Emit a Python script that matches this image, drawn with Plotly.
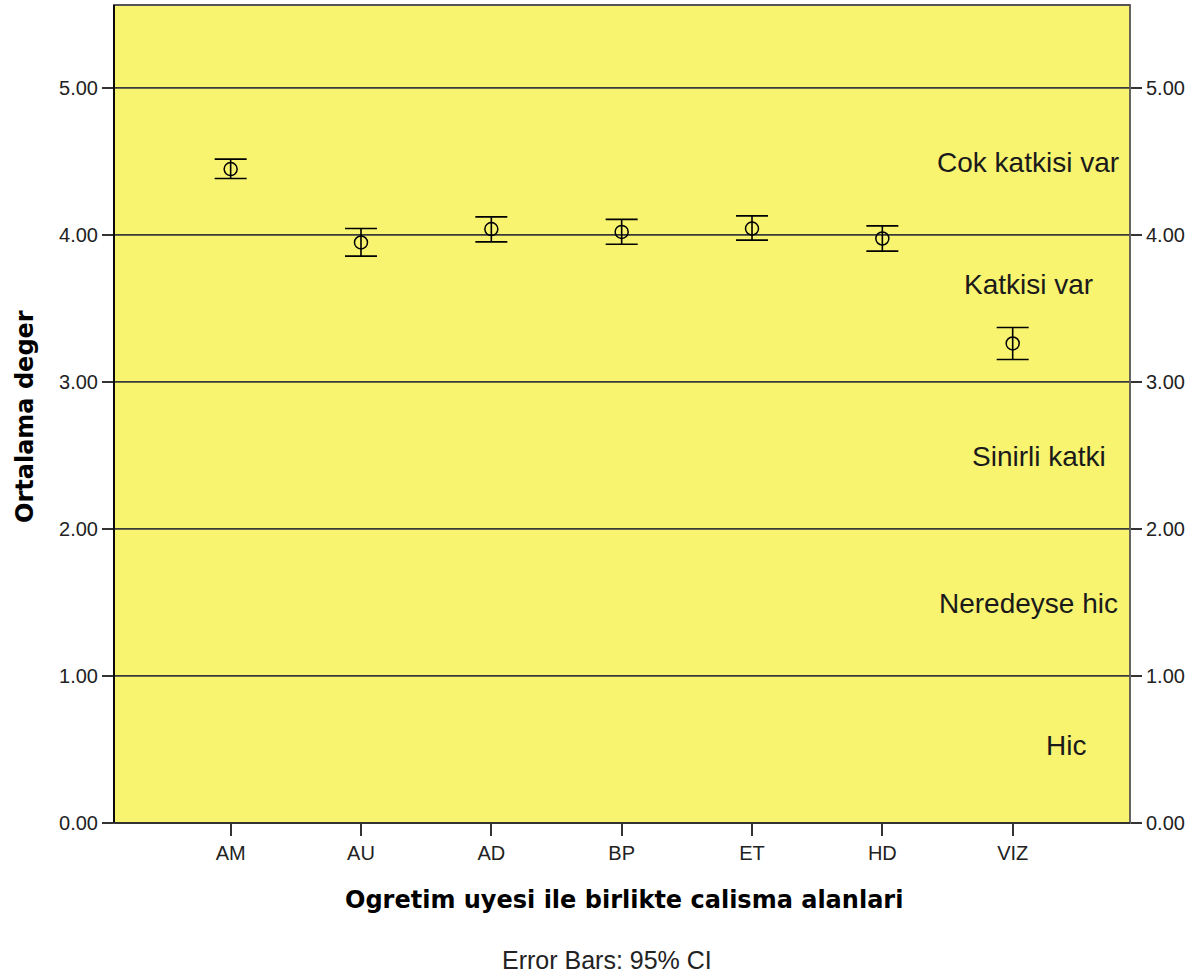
import plotly.graph_objects as go

categories = ["AM", "AU", "AD", "BP", "ET", "HD", "VIZ"]
means = [4.447, 3.948, 4.039, 4.020, 4.043, 3.975, 3.261]
ci_upper = [4.515, 4.043, 4.122, 4.105, 4.129, 4.061, 3.370]
ci_lower = [4.383, 3.855, 3.952, 3.936, 3.964, 3.889, 3.152]

band_labels = ["Cok katkisi var", "Katkisi var", "Sinirli katki", "Neredeyse hic", "Hic"]
band_label_y = [4.49, 3.66, 2.49, 1.49, 0.53]
band_label_x = [6.115, 6.125, 6.205, 6.125, 6.408]

gridlines = [1, 2, 3, 4, 5]
yticks = [0, 1, 2, 3, 4, 5]

xs = list(range(len(categories)))
err_plus = [u - m for u, m in zip(ci_upper, means)]
err_minus = [m - l for m, l in zip(means, ci_lower)]

fig = go.Figure()
fig.add_trace(go.Scatter(
    x=xs, y=means, mode="markers",
    marker=dict(symbol="circle-open", size=13, color="black", line=dict(width=1.5, color="black")),
    error_y=dict(type="data", symmetric=False, array=err_plus, arrayminus=err_minus,
                 color="black", thickness=1.6, width=16),
    showlegend=False, hoverinfo="skip",
))
fig.add_trace(go.Scatter(x=[xs[0]], y=[means[0]], yaxis="y2", mode="markers",
                         marker=dict(opacity=0), showlegend=False, hoverinfo="skip"))

for g in gridlines:
    fig.add_shape(type="line", xref="paper", yref="y", x0=0, x1=1, y0=g, y1=g,
                  line=dict(color="#3a3a3a", width=1.8), layer="below")

for t, xv, yv in zip(band_labels, band_label_x, band_label_y):
    fig.add_annotation(x=xv, y=yv, xref="x", yref="y", text=t, showarrow=False,
                       font=dict(family="Liberation Sans, Arial", size=28, color="#1a1a1a"),
                       xanchor="center", yanchor="middle")

fig.add_shape(type="rect", xref="paper", yref="paper", x0=0, x1=1, y0=0, y1=1,
              line=dict(color="#555555", width=1.8))
fig.add_shape(type="line", xref="paper", yref="paper", x0=0, x1=0, y0=0, y1=1,
              line=dict(color="black", width=1.8))
fig.add_shape(type="line", xref="paper", yref="paper", x0=0, x1=1, y0=0, y1=0,
              line=dict(color="#333333", width=2.2))

fig.add_annotation(x=0.502, y=-0.0941, xref="paper", yref="paper",
                   text="<b>Ogretim uyesi ile birlikte calisma alanlari</b>",
                   showarrow=False, font=dict(family="DejaVu Sans", size=24, color="black"),
                   xanchor="center", yanchor="middle")
fig.add_annotation(x=-0.0876, y=0.4976, xref="paper", yref="paper",
                   text="<b>Ortalama deger</b>", textangle=-90,
                   showarrow=False, font=dict(family="DejaVu Sans", size=24, color="black"),
                   xanchor="center", yanchor="middle")
fig.add_annotation(x=0.4855, y=-0.1675, xref="paper", yref="paper", text="Error Bars: 95% CI",
                   showarrow=False, font=dict(family="Liberation Sans, Arial", size=25, color="#222222"),
                   xanchor="center", yanchor="middle")

tickfont = dict(family="Liberation Sans, Arial", size=20, color="#222222")
fig.update_layout(
    width=1193, height=977,
    margin=dict(l=114, r=63, t=5, b=154),
    paper_bgcolor="white", plot_bgcolor="#F8F470",
    xaxis=dict(range=[-0.895, 6.9], tickmode="array", tickvals=xs, ticktext=categories,
               ticks="outside", ticklen=12, tickwidth=1.8, tickcolor="#333333",
               showgrid=False, zeroline=False, tickfont=tickfont),
    yaxis=dict(range=[0, 5.563], tickmode="array", tickvals=yticks, tickformat=".2f",
               ticks="outside", ticklen=11, tickwidth=1.8, tickcolor="#333333",
               showgrid=False, zeroline=False, tickfont=tickfont),
    yaxis2=dict(range=[0, 5.563], overlaying="y", side="right", tickmode="array",
                tickvals=yticks, tickformat=".2f", ticks="outside", ticklen=11, tickwidth=1.8,
                tickcolor="#333333", showgrid=False, zeroline=False, tickfont=tickfont),
)

fig.write_html("out.html", config={"displayModeBar": False})

# remove the default page margin so the figure sits at the window's top-left corner
with open("out.html", "r", encoding="utf-8") as f:
    html = f.read()
html = html.replace("<head>", "<head><style>body{margin:0;padding:0;overflow:hidden}</style>", 1)
with open("out.html", "w", encoding="utf-8") as f:
    f.write(html)
